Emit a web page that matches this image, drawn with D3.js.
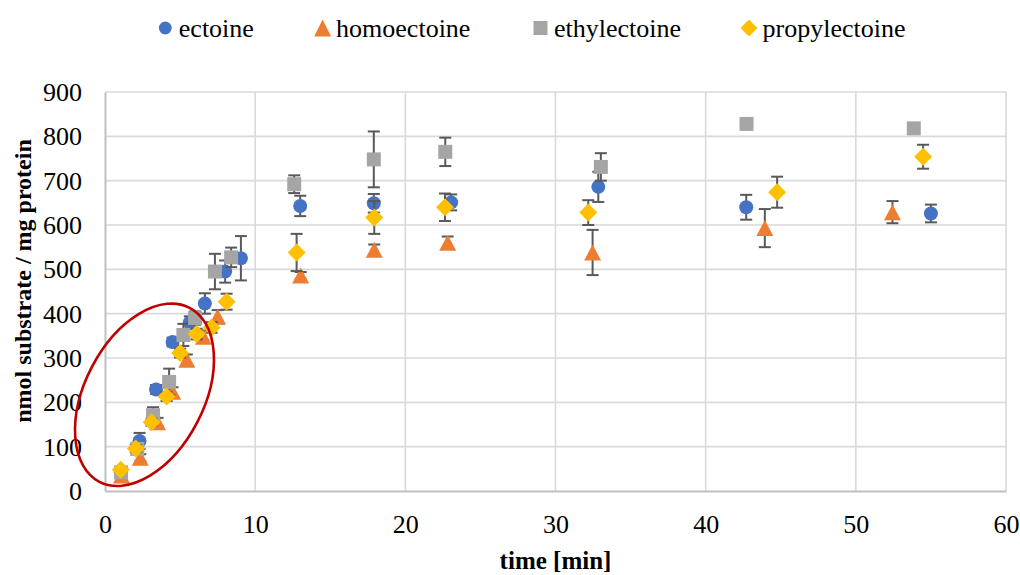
<!DOCTYPE html>
<html>
<head>
<meta charset="utf-8">
<script src="https://cdn.jsdelivr.net/npm/d3@7/dist/d3.min.js"></script>
<style>
  html, body { margin: 0; padding: 0; background: #fff; }
  svg { display: block; font-family: "Liberation Serif", "Times New Roman", serif; }
</style>
</head>
<body>
<svg id="chart" width="1020" height="575"></svg>
<script>
// Uptake of compatible solutes over time (mean ± error)
const seriesNames = ["ectoine", "homoectoine", "ethylectoine", "propylectoine"];
const seriesColors = ["#4472C4", "#ED7D31", "#A5A5A5", "#FFC000"];
const seriesShapes = ["circle", "triangle", "square", "diamond"];

const ectoineTime = [1.05, 2.3, 3.4, 4.5, 5.65, 6.65, 8.0, 9.05, 13.0, 17.9, 23.05, 32.85, 42.7, 55.0];
const ectoineValue = [42, 113, 229, 336, 380, 423, 495, 525, 643, 649, 651, 686, 640, 626];
const ectoineError = [6, 18, 10, 10, 14, 23, 25, 50, 23, 21, 18, 34, 28, 20];

const homoectoineTime = [1.1, 2.35, 3.5, 4.5, 5.45, 6.55, 7.5, 13.03, 17.93, 22.82, 32.47, 43.94, 52.44];
const homoectoineValue = [35, 75, 155, 224, 296, 348, 393, 486, 544, 560, 538, 593, 629];
const homoectoineError = [5, 8, 10, 10, 12, 14, 15, 8, 12, 14, 51, 43, 25];

const ethylectoineTime = [1.07, 2.15, 3.2, 4.27, 5.22, 6.0, 7.32, 8.4, 12.6, 17.9, 22.66, 33.02, 42.72, 53.86];
const ethylectoineValue = [42, 95, 171, 246, 352, 390, 495, 527, 692, 748, 765, 731, 828, 818];
const ethylectoineError = [8, 10, 18, 30, 25, 15, 40, 22, 20, 63, 32, 31, 5, 8];

const propylectoineTime = [1.05, 2.05, 3.1, 4.1, 5.0, 6.1, 7.1, 8.1, 12.76, 17.93, 22.64, 32.18, 44.76, 54.48];
const propylectoineValue = [48, 96, 155, 213, 311, 354, 369, 427, 538, 617, 640, 628, 674, 754];
const propylectoineError = [5, 8, 8, 10, 10, 12, 12, 18, 42, 37, 31, 28, 35, 27];

const xTicks = [0, 10, 20, 30, 40, 50, 60];
const yTicks = [0, 100, 200, 300, 400, 500, 600, 700, 800, 900];

// highlighted initial-rate region (centre in data units)
const highlightCentre = [2.63, 217];

const seriesData = [
  [ectoineTime, ectoineValue, ectoineError],
  [homoectoineTime, homoectoineValue, homoectoineError],
  [ethylectoineTime, ethylectoineValue, ethylectoineError],
  [propylectoineTime, propylectoineValue, propylectoineError]
].map(([t, v, e], i) => ({
  name: seriesNames[i], color: seriesColors[i], shape: seriesShapes[i],
  points: t.map((tt, j) => ({ t: tt, v: v[j], e: e[j] }))
}));

const svg = d3.select("#chart");
const plot = { left: 105, right: 1006, top: 92, bottom: 491 };

const x = d3.scaleLinear().domain([0, 60]).range([plot.left, plot.right]);
const y = d3.scaleLinear().domain([0, 900]).range([plot.bottom, plot.top]);

// marker path generators (centred on 0,0)
function markerPath(shape, legend) {
  const p = d3.path();
  if (shape === "circle") {
    const r = legend ? 6.4 : 7;
    p.arc(0, 0, r, 0, 2 * Math.PI);
  } else if (shape === "triangle") {
    const w = 17, h = legend ? 17 : 16;
    p.moveTo(0, -h / 2); p.lineTo(w / 2, h / 2); p.lineTo(-w / 2, h / 2); p.closePath();
  } else if (shape === "square") {
    const s = 14;
    p.rect(-s / 2, -s / 2, s, s);
  } else {
    const s = legend ? 8.5 : 9;
    p.moveTo(0, -s); p.lineTo(s, 0); p.lineTo(0, s); p.lineTo(-s, 0); p.closePath();
  }
  return p.toString();
}

// gridlines
const grid = svg.append("g");
grid.selectAll("line.h").data(yTicks.filter(d => d > 0)).join("line")
  .attr("x1", plot.left).attr("x2", plot.right)
  .attr("y1", d => y(d)).attr("y2", d => y(d))
  .attr("stroke", "#D9D9D9").attr("stroke-width", 1.6);
grid.selectAll("line.v").data(xTicks.filter(d => d > 0)).join("line")
  .attr("y1", plot.top).attr("y2", plot.bottom)
  .attr("x1", d => x(d)).attr("x2", d => x(d))
  .attr("stroke", "#D9D9D9").attr("stroke-width", 1.6);

// axes
const xAxis = svg.append("g").attr("transform", `translate(0,${plot.bottom})`)
  .call(d3.axisBottom(x).tickValues(xTicks).tickSize(0).tickPadding(24));
const yAxis = svg.append("g").attr("transform", `translate(${plot.left},0)`)
  .call(d3.axisLeft(y).tickValues(yTicks).tickSize(0).tickPadding(23));
[xAxis, yAxis].forEach(g => {
  g.select(".domain").attr("stroke", "#BFBFBF").attr("stroke-width", 2);
  g.selectAll("text").attr("font-family", "Liberation Serif, Times New Roman, serif")
    .attr("font-size", 26).attr("fill", "#000");
});
xAxis.selectAll("text").attr("dy", "0.71em");
yAxis.selectAll("text").attr("dy", "0.33em");

// axis titles
svg.append("text").attr("x", (plot.left + plot.right) / 2).attr("y", 569)
  .attr("text-anchor", "middle").attr("font-size", 25).attr("font-weight", "bold")
  .text("time [min]");
svg.append("text").attr("transform", "translate(31,281) rotate(-90)")
  .attr("text-anchor", "middle").attr("font-size", 24).attr("font-weight", "bold")
  .text("nmol substrate / mg protein");

// series: error bars beneath markers
seriesData.forEach(s => {
  const g = svg.append("g");
  const eb = g.selectAll("g.err").data(s.points.filter(p => p.e > 0)).join("g")
    .attr("stroke", "#595959").attr("stroke-width", 2);
  eb.append("line").attr("x1", d => x(d.t)).attr("x2", d => x(d.t))
    .attr("y1", d => y(d.v + d.e)).attr("y2", d => y(d.v - d.e));
  eb.append("line").attr("x1", d => x(d.t) - 6).attr("x2", d => x(d.t) + 6)
    .attr("y1", d => y(d.v + d.e)).attr("y2", d => y(d.v + d.e));
  eb.append("line").attr("x1", d => x(d.t) - 6).attr("x2", d => x(d.t) + 6)
    .attr("y1", d => y(d.v - d.e)).attr("y2", d => y(d.v - d.e));
  g.selectAll("path.mk").data(s.points).join("path")
    .attr("transform", d => `translate(${x(d.t)},${y(d.v)})`)
    .attr("d", markerPath(s.shape, false))
    .attr("fill", s.color);
});

// highlight ellipse around the initial linear phase
svg.append("ellipse")
  .attr("cx", 0).attr("cy", 0).attr("rx", 98).attr("ry", 59.5)
  .attr("transform", `translate(${x(highlightCentre[0])},${y(highlightCentre[1])}) rotate(-62.6)`)
  .attr("fill", "none").attr("stroke", "#C00000").attr("stroke-width", 2.6);

// legend
const legendMarkerX = [165.3, 322.6, 540.5, 749];
const legend = svg.append("g");
seriesData.forEach((s, i) => {
  const lg = legend.append("g").attr("transform", `translate(${legendMarkerX[i]},28)`);
  lg.append("path").attr("d", markerPath(s.shape, true)).attr("fill", s.color);
  lg.append("text").attr("x", 13.5).attr("y", 0).attr("dy", "0.33em")
    .attr("font-size", 26).text(s.name);
});
</script>
</body>
</html>
